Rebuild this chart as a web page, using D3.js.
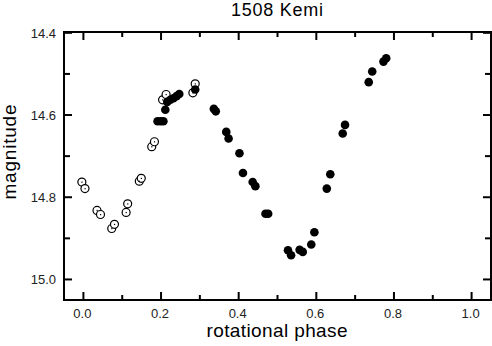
<!DOCTYPE html>
<html>
<head>
<meta charset="utf-8">
<script src="https://cdn.jsdelivr.net/npm/d3@7"></script>
<style>
  body { margin: 0; background: #fff; }
  text { font-family: Arial, "Liberation Sans", sans-serif; }
</style>
</head>
<body>
<script>
var w = 492;
var h = 346;

//open circles: earlier session
var openPhase = [-0.004, 0.004, 0.035, 0.044, 0.073, 0.080, 0.110, 0.114, 0.144, 0.149,
                 0.176, 0.183, 0.204, 0.213, 0.282, 0.288];
var openMag   = [14.763, 14.779, 14.832, 14.842, 14.876, 14.866, 14.837, 14.816, 14.761, 14.754,
                 14.677, 14.665, 14.563, 14.550, 14.546, 14.524];

//filled circles: later session
var fillPhase = [0.191, 0.199, 0.206, 0.211, 0.216, 0.224, 0.232, 0.240, 0.247, 0.288,
                 0.336, 0.341, 0.368, 0.374, 0.402, 0.411, 0.436, 0.443, 0.469, 0.476,
                 0.527, 0.535, 0.557, 0.565, 0.587, 0.595, 0.627, 0.636, 0.668, 0.674,
                 0.735, 0.744, 0.773, 0.780];
var fillMag   = [14.615, 14.615, 14.615, 14.587, 14.568, 14.563, 14.559, 14.554, 14.549, 14.538,
                 14.585, 14.591, 14.641, 14.657, 14.693, 14.741, 14.763, 14.773, 14.840, 14.840,
                 14.929, 14.941, 14.928, 14.933, 14.915, 14.885, 14.779, 14.744, 14.645, 14.624,
                 14.520, 14.494, 14.470, 14.462];

var xMajor = [0, 0.2, 0.4, 0.6, 0.8, 1.0];
var xMinor = [0.1, 0.3, 0.5, 0.7, 0.9];
var yMajor = [14.4, 14.6, 14.8, 15.0];
var yMinor = [14.5, 14.7, 14.9];

var pLeft = 64, pRight = 491, pTop = 32, pBottom = 300;

var x = d3.scaleLinear().domain([-0.05, 1.05]).range([pLeft, pRight]);
var y = d3.scaleLinear().domain([14.398, 15.05]).range([pTop, pBottom]);

var svg = d3.select("body")
            .append("svg")
            .attr("width", w)
            .attr("height", h);

//title and axis labels
svg.append("text")
   .attr("x", 277).attr("y", 16)
   .attr("text-anchor", "middle")
   .attr("textLength", 92)
   .style("font-size", "18px")
   .text("1508 Kemi");

svg.append("text")
   .attr("x", 277).attr("y", 337)
   .attr("text-anchor", "middle")
   .attr("textLength", 141)
   .style("font-size", "19px")
   .text("rotational phase");

svg.append("text")
   .attr("transform", "translate(16,152) rotate(-90)")
   .attr("text-anchor", "middle")
   .attr("textLength", 95)
   .style("font-size", "19px")
   .text("magnitude");

//ticks, inward on all four sides
function xTickLines(vals, len) {
  svg.selectAll(null).data(vals).enter().append("line")
     .attr("x1", function(d) { return x(d); }).attr("x2", function(d) { return x(d); })
     .attr("y1", pBottom).attr("y2", pBottom - len)
     .style("stroke", "#000").style("stroke-width", 2);
  svg.selectAll(null).data(vals).enter().append("line")
     .attr("x1", function(d) { return x(d); }).attr("x2", function(d) { return x(d); })
     .attr("y1", pTop).attr("y2", pTop + len)
     .style("stroke", "#000").style("stroke-width", 2);
}
function yTickLines(vals, len) {
  svg.selectAll(null).data(vals).enter().append("line")
     .attr("y1", function(d) { return y(d); }).attr("y2", function(d) { return y(d); })
     .attr("x1", pLeft).attr("x2", pLeft + len)
     .style("stroke", "#000").style("stroke-width", 2);
  svg.selectAll(null).data(vals).enter().append("line")
     .attr("y1", function(d) { return y(d); }).attr("y2", function(d) { return y(d); })
     .attr("x1", pRight).attr("x2", pRight - len)
     .style("stroke", "#000").style("stroke-width", 2);
}
xTickLines(xMajor, 8);
xTickLines(xMinor, 5);
yTickLines(yMajor, 8);
yTickLines(yMinor, 6);

svg.selectAll(null).data(xMajor).enter().append("text")
   .attr("x", function(d) { return x(d) - 1; })
   .attr("y", 318)
   .attr("text-anchor", "middle")
   .style("font-size", "13px").style("fill", "#222")
   .text(function(d) { return d.toFixed(1); });

svg.selectAll(null).data(yMajor).enter().append("text")
   .attr("x", 56)
   .attr("y", function(d) { return y(d) + 5; })
   .attr("text-anchor", "end")
   .style("font-size", "13px").style("fill", "#222")
   .text(function(d) { return d.toFixed(1); });

//frame
svg.append("rect")
   .attr("x", pLeft).attr("y", pTop)
   .attr("width", pRight - pLeft).attr("height", pBottom - pTop)
   .style("fill", "none").style("stroke", "#000").style("stroke-width", 2);

//open circles with center dot
var openData = openPhase.map(function(p, i) { return {p: p, m: openMag[i]}; });
svg.selectAll(".open").data(openData).enter().append("circle")
   .attr("class", "open")
   .attr("cx", function(d) { return x(d.p); })
   .attr("cy", function(d) { return y(d.m); })
   .attr("r", 4)
   .style("fill", "#fff").style("stroke", "#000").style("stroke-width", 1.2);
svg.selectAll(".odot").data(openData).enter().append("rect")
   .attr("class", "odot")
   .attr("x", function(d) { return x(d.p) - 0.5; })
   .attr("y", function(d) { return y(d.m) - 0.5; })
   .attr("width", 1.2).attr("height", 1.2)
   .style("fill", "#000");

//filled circles
var fillData = fillPhase.map(function(p, i) { return {p: p, m: fillMag[i]}; });
svg.selectAll(".filled").data(fillData).enter().append("circle")
   .attr("class", "filled")
   .attr("cx", function(d) { return x(d.p); })
   .attr("cy", function(d) { return y(d.m); })
   .attr("r", 4.3)
   .style("fill", "#000");
</script>
</body>
</html>
